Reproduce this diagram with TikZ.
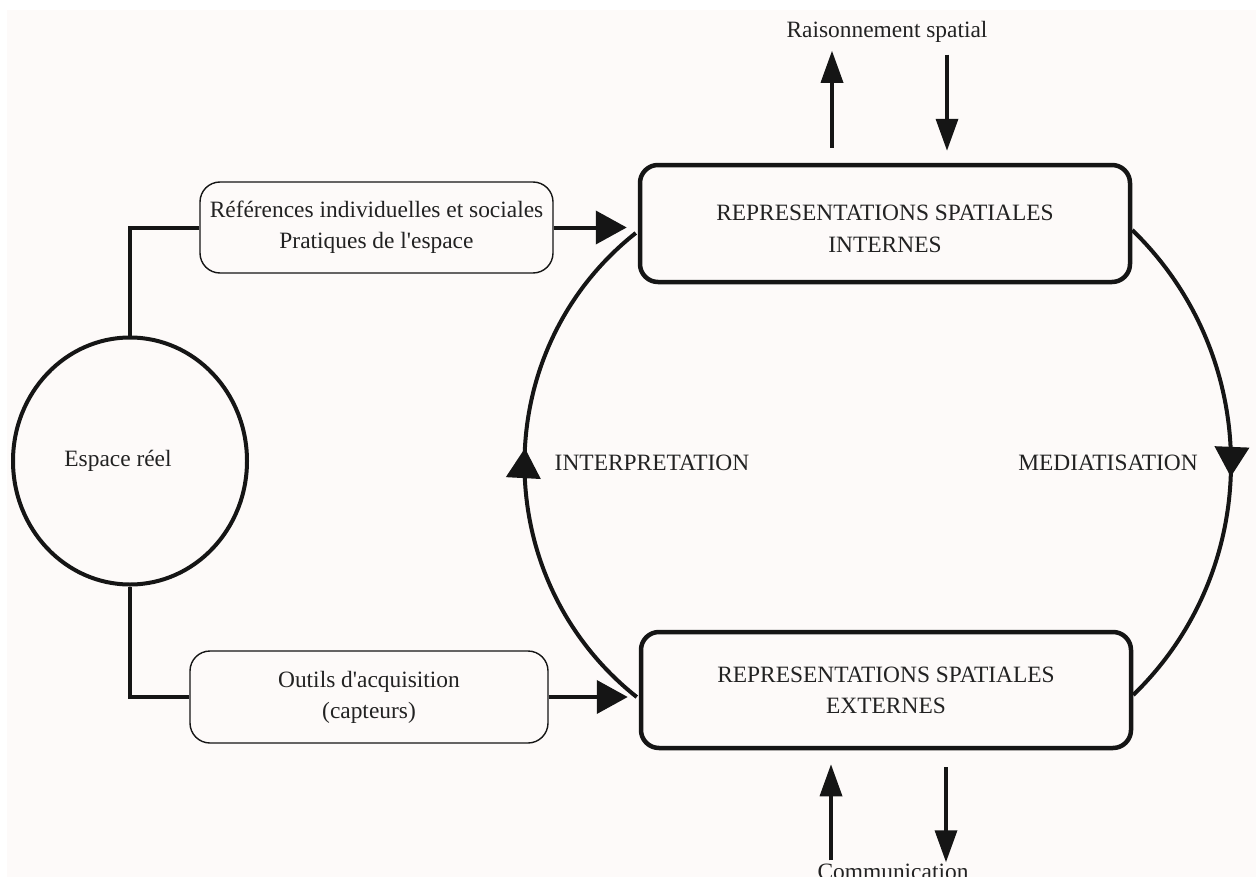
\documentclass[tikz,border=0pt]{standalone}
\usepackage{fontspec}
\setmainfont{Liberation Serif}[Ligatures=TeXOff]
\usetikzlibrary{shapes.geometric,arrows.meta,decorations.markings,calc}
\definecolor{bgc}{HTML}{FDFAF9}
\definecolor{ink}{HTML}{151515}
\definecolor{txt}{HTML}{222222}
\begin{document}
\begin{tikzpicture}[x=1bp,y=-1bp,
  every node/.style={font=\fontsize{23.5}{31}\selectfont, text=txt, align=center},
  bigbox/.style={draw=ink, line width=4.5bp, rounded corners=18bp, minimum width=490bp, minimum height=117bp, inner sep=0pt},
  smallbox/.style={draw=ink, line width=1.4bp, rounded corners=20bp, inner sep=0pt},
  thickline/.style={draw=ink, line width=4bp},
  arrowline/.style={draw=ink, line width=4bp, -{Triangle[length=31bp,width=33bp]}, shorten >=11bp},
  vertarrow/.style={draw=ink, line width=3.5bp, -{Triangle[length=32bp,width=22bp]}},
  arcline/.style={draw=ink, line width=4bp},
  midarrow/.style={postaction={decorate}, decoration={markings, mark=at position #1 with {\arrow{Triangle[length=30bp,width=34bp]}}}}
]
\useasboundingbox (0,0) rectangle (1256,877);
\fill[white] (0,0) rectangle (1256,877);
\fill[bgc] (7,10) rectangle (1256,877);

% nodes
\node[ellipse, draw=ink, line width=4bp, minimum width=234bp, minimum height=247bp, inner sep=0pt] (esp) at (130,461) {Espace réel\hspace*{24bp}};
\node[smallbox, minimum width=353bp, minimum height=91bp] (ref) at (376.5,227.5) {Références individuelles et sociales\\Pratiques de l'espace};
\node[smallbox, minimum width=358bp, minimum height=92bp] (out) at (369,697) {Outils d'acquisition\\(capteurs)};
\node[bigbox] (itop) at (885,223.5) {\raisebox{3.5bp}[0pt][0pt]{\begin{tabular}[t]{@{}c@{}}REPRESENTATIONS SPATIALES\\[2bp]INTERNES\end{tabular}}};
\node[bigbox, minimum height=116bp] (ibot) at (886,690) {REPRESENTATIONS SPATIALES\\EXTERNES};
\node (rs) at (887,32) {Raisonnement spatial};
\node[anchor=base] (com) at (893,879) {Communication};
\node (interp) at (652,463) {INTERPRETATION};
\node (media) at (1108,463) {MEDIATISATION};

% connectors from Espace reel
\draw[thickline] (esp.north) |- (ref.west);
\draw[thickline] (esp.south) |- (out.west);
\draw[arrowline] (ref.east) -- (ref.east -| itop.west);
\draw[arrowline] (out.east) -- (out.east -| ibot.west);

% arcs
\coordinate (lb) at ($(ibot.west)+(-2,7)$);
\coordinate (lt) at ($(itop.west)+(-2,9.5)$);
\coordinate (rt) at ($(itop.east)+(0,6.5)$);
\coordinate (rb) at ($(ibot.east)+(0,5)$);
\draw[arcline, midarrow=0.532] (lb) .. controls +(-149,-118) and +(-149,118) .. (lt);
\draw[arcline, midarrow=0.528] (rt) .. controls +(131,127) and +(131,-127) .. (rb);

% top arrows
\coordinate (tu1) at ($(itop.north)+(-53,-15)$);
\coordinate (tu2) at ($(itop.north)+(-53,-112)$);
\coordinate (td1) at ($(itop.north)+(62,-108)$);
\coordinate (td2) at ($(itop.north)+(62,-12)$);
\draw[vertarrow] (tu1) -- (tu2);
\draw[vertarrow] (td1) -- (td2);

% bottom arrows
\coordinate (bu1) at ($(ibot.south)+(-55,110)$);
\coordinate (bu2) at ($(ibot.south)+(-55,14)$);
\coordinate (bd1) at ($(ibot.south)+(60,17)$);
\coordinate (bd2) at ($(ibot.south)+(60,112)$);
\draw[vertarrow] (bu1) -- (bu2);
\draw[vertarrow] (bd1) -- (bd2);
\end{tikzpicture}
\end{document}
